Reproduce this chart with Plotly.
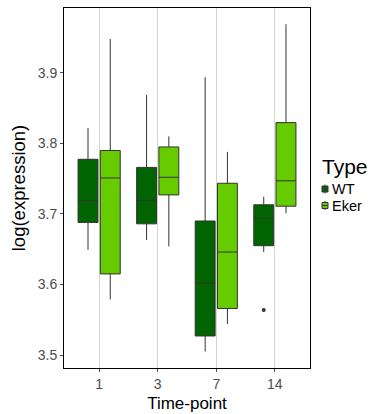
import plotly.graph_objects as go

# Time-points on the x axis and box statistics of log(expression) per genotype
timepoints = ["1", "3", "7", "14"]

wt_lower = [3.649, 3.663, 3.505, 3.646]
wt_q1 = [3.688, 3.686, 3.527, 3.655]
wt_median = [3.719, 3.719, 3.602, 3.694]
wt_q3 = [3.7775, 3.766, 3.690, 3.713]
wt_upper = [3.822, 3.869, 3.894, 3.7245]

eker_lower = [3.579, 3.654, 3.544, 3.701]
eker_q1 = [3.615, 3.727, 3.566, 3.711]
eker_median = [3.751, 3.752, 3.646, 3.747]
eker_q3 = [3.790, 3.795, 3.7435, 3.8295]
eker_upper = [3.948, 3.810, 3.788, 3.969]

# outliers beyond the whiskers (WT only, time-point 14)
wt_outlier_timepoint = ["14"]
wt_outlier_value = [3.564]

types = ["WT", "Eker"]
type_colors = ["#006400", "#66CC00"]

EDGE = "#333333"
DODGE = 0.19
BOX_W = 0.34
FONT = "Liberation Sans, Arial, sans-serif"

W, H = 371, 414
M = dict(l=64, r=61, t=8, b=46)
PW = W - M["l"] - M["r"]
PH = H - M["t"] - M["b"]

pos = {t: i + 1 for i, t in enumerate(timepoints)}


def px_x(p):
    """pixel column -> paper x"""
    return (p - M["l"]) / PW


def px_y(p):
    """pixel row -> paper y"""
    return (H - M["b"] - p) / PH


fig = go.Figure()

stats = [
    (wt_lower, wt_q1, wt_median, wt_q3, wt_upper, -DODGE),
    (eker_lower, eker_q1, eker_median, eker_q3, eker_upper, DODGE),
]
for name, color, (lo, q1, med, q3, up, off) in zip(types, type_colors, stats):
    fig.add_trace(go.Box(
        name=name,
        x=[pos[t] + off for t in timepoints],
        q1=q1, median=med, q3=q3,
        lowerfence=lo, upperfence=up,
        width=BOX_W, fillcolor=color,
        line=dict(color=EDGE, width=1),
        whiskerwidth=0, boxpoints=False,
        hoverinfo="skip", showlegend=False,
    ))

fig.add_trace(go.Scatter(
    x=[pos[t] - DODGE for t in wt_outlier_timepoint],
    y=wt_outlier_value,
    mode="markers",
    marker=dict(color="#333333", size=4),
    showlegend=False,
    hoverinfo="skip",
))

# compact ggplot-style legend at the right of the panel
annotations = [dict(
    text="Type", xref="paper", yref="paper",
    x=px_x(320), y=px_y(166), xanchor="left", yanchor="middle",
    showarrow=False, font=dict(size=21, family=FONT, color="black"),
)]
shapes = []
for i, (name, color) in enumerate(zip(types, type_colors)):
    cy = 189 + i * 16.5
    annotations.append(dict(
        text=name, xref="paper", yref="paper",
        x=px_x(330.5), y=px_y(cy), xanchor="left", yanchor="middle",
        showarrow=False, font=dict(size=14.5, family=FONT, color="black"),
        borderpad=0,
    ))
    # key: small box with median line and whisker stubs
    shapes.append(dict(type="line", xref="paper", yref="paper",
                       x0=px_x(325), x1=px_x(325), y0=px_y(cy - 4.5), y1=px_y(cy + 4.5),
                       line=dict(color=EDGE, width=1)))
    shapes.append(dict(type="rect", xref="paper", yref="paper",
                       x0=px_x(322), x1=px_x(328), y0=px_y(cy - 3), y1=px_y(cy + 3),
                       fillcolor=color, line=dict(color=EDGE, width=1)))
    shapes.append(dict(type="line", xref="paper", yref="paper",
                       x0=px_x(322), x1=px_x(328), y0=px_y(cy), y1=px_y(cy),
                       line=dict(color=EDGE, width=1)))

fig.update_layout(
    width=W, height=H,
    margin=dict(**M, autoexpand=False),
    paper_bgcolor="white", plot_bgcolor="white",
    font=dict(family=FONT, color="black"),
    boxmode="overlay",
    showlegend=False,
    annotations=annotations,
    shapes=shapes,
    xaxis=dict(
        range=[0.4, 4.6],
        tickvals=[pos[t] for t in timepoints],
        ticktext=timepoints,
        showgrid=True, gridcolor="#d4d4d4", gridwidth=1,
        showline=True, linecolor="black", linewidth=1, mirror=True,
        ticks="outside", ticklen=3, tickcolor="#4d4d4d",
        tickfont=dict(size=14, color="#4d4d4d"),
        title=dict(text="Time-point", font=dict(size=17), standoff=6),
        zeroline=False,
    ),
    yaxis=dict(
        range=[3.4816, 3.992],
        tickvals=[3.5, 3.6, 3.7, 3.8, 3.9],
        ticktext=["3.5", "3.6", "3.7", "3.8", "3.9"],
        showgrid=False,
        showline=True, linecolor="black", linewidth=1, mirror=True,
        ticks="outside", ticklen=3, tickcolor="#4d4d4d",
        tickfont=dict(size=14, color="#4d4d4d"),
        title=dict(text="log(expression)", font=dict(size=18.5), standoff=7),
        zeroline=False,
    ),
)

fig.write_html("out.html")
